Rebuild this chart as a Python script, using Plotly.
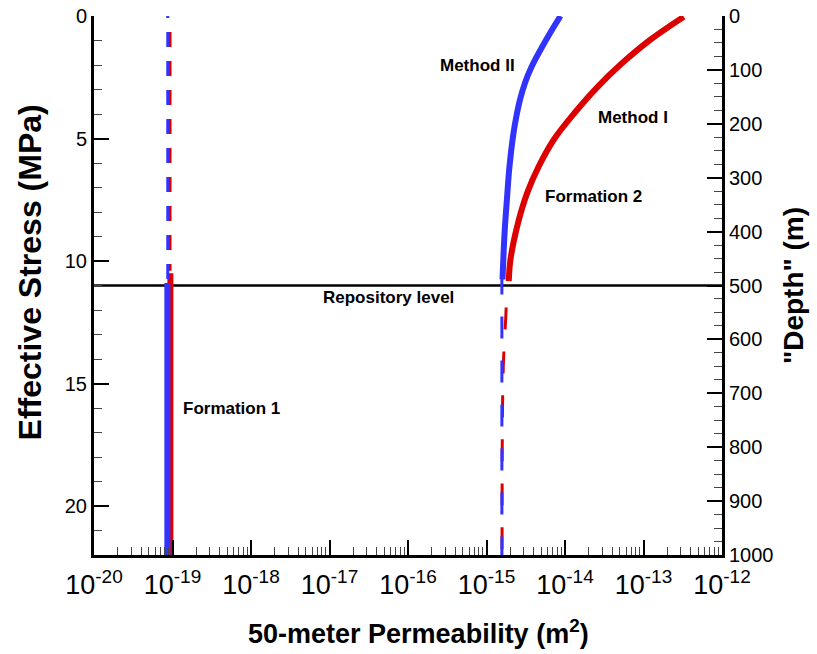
import plotly.graph_objects as go

# ---- data ----
# Formation 2, above repository level (solid curves)
m2_stress = [0.0, 0.98, 2.08, 2.73, 3.42, 4.07, 4.77, 6.15, 7.49, 8.84, 10.75]
m2_perm = [8.76e-15, 5.73e-15, 3.74e-15, 3.09e-15, 2.67e-15, 2.41e-15, 2.21e-15, 1.96e-15, 1.82e-15, 1.70e-15, 1.60e-15]

m1_stress = [0.03, 0.98, 1.93, 2.88, 3.96, 5.05, 6.14, 7.22, 8.58, 9.94, 10.82]
m1_perm = [3.26e-13, 1.21e-13, 5.32e-14, 2.62e-14, 1.32e-14, 7.19e-15, 4.63e-15, 3.30e-15, 2.46e-15, 2.02e-15, 1.92e-15]

# Formation 2, below repository level (dashed)
f2_low_m2_stress = [10.47, 22.0]
f2_low_m2_perm = [1.57e-15, 1.57e-15]
f2_low_m1_stress = [11.9, 12.3, 14.2, 16.0, 18.0, 22.0]
f2_low_m1_perm = [1.78e-15, 1.76e-15, 1.64e-15, 1.60e-15, 1.585e-15, 1.578e-15]

# Formation 1, above repository level (dashed)
f1_up_m2_stress = [0.0, 11.0]
f1_up_m2_perm = [8.7e-20, 8.7e-20]
f1_up_m1_stress = [0.65, 10.4]
f1_up_m1_perm = [9.3e-20, 9.3e-20]

# Formation 1, below repository level (solid)
f1_low_m2_stress = [10.9, 22.0]
f1_low_m2_perm = [8.6e-20, 8.6e-20]
f1_low_m1_stress = [10.5, 22.0]
f1_low_m1_perm = [9.4e-20, 9.4e-20]

repo_stress = 11.0
x_range_exp = [-20, -12]
stress_ticks = [0, 5, 10, 15, 20]
depth_ticks = [0, 100, 200, 300, 400, 500, 600, 700, 800, 900, 1000]
x_tick_exps = list(range(-20, -11))

BLUE = "#3333ff"
RED = "#dd0000"
FONT = "Arial, Liberation Sans, sans-serif"

fig = go.Figure()

def line(x, y, color, width, dash="solid", yaxis="y", shape="spline"):
    fig.add_trace(go.Scatter(x=x, y=y, mode="lines", yaxis=yaxis,
                             line=dict(color=color, width=width, dash=dash, shape=shape),
                             showlegend=False, hoverinfo="skip"))

# repository level
line([10 ** x_range_exp[0], 10 ** x_range_exp[1]], [repo_stress, repo_stress], "black", 2.5, shape="linear")

# Formation 1
line(f1_low_m1_perm, f1_low_m1_stress, RED, 6, shape="linear")
line(f1_low_m2_perm, f1_low_m2_stress, BLUE, 6, shape="linear")
line(f1_up_m1_perm, f1_up_m1_stress, RED, 3, dash="15px,14px", shape="linear")
line(f1_up_m2_perm, f1_up_m2_stress, BLUE, 3, dash="2px,14px,13px,0px", shape="linear")

# Formation 2
line(m1_perm, m1_stress, RED, 6)
line(m2_perm, m2_stress, BLUE, 6)
line(f2_low_m1_perm, f2_low_m1_stress, RED, 3, dash="22px,22px")
line(f2_low_m2_perm, f2_low_m2_stress, BLUE, 3, dash="22px,22px", shape="linear")

# dummy trace to carry the right-hand depth axis
fig.add_trace(go.Scatter(x=[1e-16], y=[500], yaxis="y2", mode="markers",
                         marker=dict(opacity=0), showlegend=False, hoverinfo="skip"))

minor_x = [m * 10 ** e for e in range(-20, -12) for m in range(2, 10)]

fig.update_layout(
    width=817, height=654,
    margin=dict(l=94, r=95, t=16, b=99),
    paper_bgcolor="white", plot_bgcolor="white",
    font=dict(family=FONT, color="black"),
    xaxis=dict(
        type="log", range=x_range_exp, automargin=False,
        tickmode="array",
        tickvals=[10 ** e for e in x_tick_exps],
        ticktext=['10<sup><span style="font-size:19px">%d</span></sup>' % e for e in x_tick_exps],
        tickfont=dict(size=27),
        ticks="inside", ticklen=15, tickwidth=2, tickcolor="black",
        ticklabelstandoff=4,
        minor=dict(tickmode="array", tickvals=minor_x, ticks="inside",
                   ticklen=8, tickwidth=1, tickcolor="#444"),
        showline=True, linecolor="black", linewidth=3, mirror=False,
        showgrid=False, zeroline=False,
    ),
    yaxis=dict(
        range=[22, 0], tickmode="array", tickvals=stress_ticks, automargin=False,
        tickfont=dict(size=20),
        ticks="inside", ticklen=15, tickwidth=2, tickcolor="black",
        minor=dict(dtick=1, ticks="inside", ticklen=8, tickwidth=1, tickcolor="#444"),
        showline=True, linecolor="black", linewidth=3, mirror=False,
        showgrid=False, zeroline=False,
    ),
    yaxis2=dict(
        overlaying="y", side="right", range=[1000, 0], automargin=False,
        tickmode="array", tickvals=depth_ticks,
        tickfont=dict(size=20),
        ticks="inside", ticklen=15, tickwidth=2, tickcolor="black",
        minor=dict(dtick=25, ticks="inside", ticklen=8, tickwidth=1, tickcolor="#444"),
        showline=True, linecolor="black", linewidth=3,
        showgrid=False, zeroline=False,
        title=dict(text='<b>"Depth" (m)</b>', font=dict(size=28), standoff=11),
    ),
)

# x-axis title
fig.add_annotation(x=0.516, y=-0.143, xref="paper", yref="paper", xanchor="center", yanchor="middle",
                   text="<b>50-meter Permeability (m<sup>2</sup>)</b>", showarrow=False,
                   font=dict(size=27, family=FONT, color="black"))
# left y-axis title
fig.add_annotation(x=-0.102, y=0.5 + 13 / 539, xref="paper", yref="paper", xanchor="center", yanchor="middle",
                   text="<b>Effective Stress (MPa)</b>", showarrow=False, textangle=-90,
                   font=dict(size=32, family=FONT, color="black"))

ann = [
    ("Method II", -15.115, 2.04),
    ("Method I", -13.14, 4.15),
    ("Formation 2", -13.64, 7.37),
    ("Repository level", -16.25, 11.49),
    ("Formation 1", -18.25, 16.0),
]
for text, lx, sy in ann:
    fig.add_annotation(x=lx, y=sy, xref="x", yref="y", text="<b>%s</b>" % text,
                       showarrow=False, font=dict(size=17, family=FONT, color="black"))

fig.write_html("out.html")
